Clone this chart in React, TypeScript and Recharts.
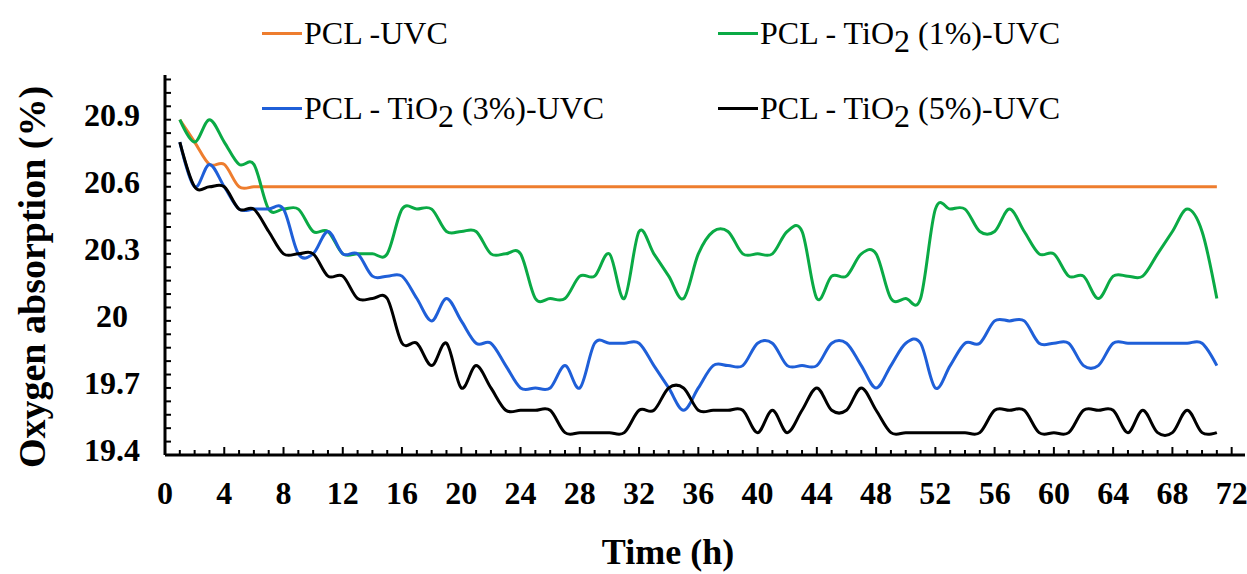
import React from 'react';
import { LineChart, Line, XAxis, YAxis, Legend } from 'recharts';

// time (h)
const hours = [
  1, 2, 3, 4, 5, 6, 7, 8, 9, 10,
  11, 12, 13, 14, 15, 16, 17, 18, 19, 20,
  21, 22, 23, 24, 25, 26, 27, 28, 29, 30,
  31, 32, 33, 34, 35, 36, 37, 38, 39, 40,
  41, 42, 43, 44, 45, 46, 47, 48, 49, 50,
  51, 52, 53, 54, 55, 56, 57, 58, 59, 60,
  61, 62, 63, 64, 65, 66, 67, 68, 69, 70,
  71,
];

const pclUvc = [
  20.9, 20.8, 20.7, 20.7, 20.6, 20.6, 20.6, 20.6, 20.6, 20.6,
  20.6, 20.6, 20.6, 20.6, 20.6, 20.6, 20.6, 20.6, 20.6, 20.6,
  20.6, 20.6, 20.6, 20.6, 20.6, 20.6, 20.6, 20.6, 20.6, 20.6,
  20.6, 20.6, 20.6, 20.6, 20.6, 20.6, 20.6, 20.6, 20.6, 20.6,
  20.6, 20.6, 20.6, 20.6, 20.6, 20.6, 20.6, 20.6, 20.6, 20.6,
  20.6, 20.6, 20.6, 20.6, 20.6, 20.6, 20.6, 20.6, 20.6, 20.6,
  20.6, 20.6, 20.6, 20.6, 20.6, 20.6, 20.6, 20.6, 20.6, 20.6,
  20.6,
];

const tio2One = [
  20.9, 20.8, 20.9, 20.8, 20.7, 20.7, 20.5, 20.5, 20.5, 20.4,
  20.4, 20.3, 20.3, 20.3, 20.3, 20.5, 20.5, 20.5, 20.4, 20.4,
  20.4, 20.3, 20.3, 20.3, 20.1, 20.1, 20.1, 20.2, 20.2, 20.3,
  20.1, 20.4, 20.3, 20.2, 20.1, 20.3, 20.4, 20.4, 20.3, 20.3,
  20.3, 20.4, 20.4, 20.1, 20.2, 20.2, 20.3, 20.3, 20.1, 20.1,
  20.1, 20.5, 20.5, 20.5, 20.4, 20.4, 20.5, 20.4, 20.3, 20.3,
  20.2, 20.2, 20.1, 20.2, 20.2, 20.2, 20.3, 20.4, 20.5, 20.4,
  20.1,
];

const tio2Three = [
  20.8, 20.6, 20.7, 20.6, 20.5, 20.5, 20.5, 20.5, 20.3, 20.3,
  20.4, 20.3, 20.3, 20.2, 20.2, 20.2, 20.1, 20.0, 20.1, 20.0,
  19.9, 19.9, 19.8, 19.7, 19.7, 19.7, 19.8, 19.7, 19.9, 19.9,
  19.9, 19.9, 19.8, 19.7, 19.6, 19.7, 19.8, 19.8, 19.8, 19.9,
  19.9, 19.8, 19.8, 19.8, 19.9, 19.9, 19.8, 19.7, 19.8, 19.9,
  19.9, 19.7, 19.8, 19.9, 19.9, 20.0, 20.0, 20.0, 19.9, 19.9,
  19.9, 19.8, 19.8, 19.9, 19.9, 19.9, 19.9, 19.9, 19.9, 19.9,
  19.8,
];

const tio2Five = [
  20.8, 20.6, 20.6, 20.6, 20.5, 20.5, 20.4, 20.3, 20.3, 20.3,
  20.2, 20.2, 20.1, 20.1, 20.1, 19.9, 19.9, 19.8, 19.9, 19.7,
  19.8, 19.7, 19.6, 19.6, 19.6, 19.6, 19.5, 19.5, 19.5, 19.5,
  19.5, 19.6, 19.6, 19.7, 19.7, 19.6, 19.6, 19.6, 19.6, 19.5,
  19.6, 19.5, 19.6, 19.7, 19.6, 19.6, 19.7, 19.6, 19.5, 19.5,
  19.5, 19.5, 19.5, 19.5, 19.5, 19.6, 19.6, 19.6, 19.5, 19.5,
  19.5, 19.6, 19.6, 19.6, 19.5, 19.6, 19.5, 19.5, 19.6, 19.5,
  19.5,
];

const xLabels = [0, 4, 8, 12, 16, 20, 24, 28, 32, 36, 40, 44, 48, 52, 56, 60, 64, 68, 72];
const yLabels = [19.4, 19.7, 20, 20.3, 20.6, 20.9];

const data = hours.map((h, i) => ({
  hour: h,
  pclUvc: pclUvc[i],
  tio2One: tio2One[i],
  tio2Three: tio2Three[i],
  tio2Five: tio2Five[i],
}));

// minor ticks: every hour on x, every 0.06 on y
const xTicks = Array.from({ length: 73 }, (_, i) => i);
const yTicks = Array.from({ length: 29 }, (_, i) => Number((19.4 + i * 0.06).toFixed(2)));

const serif = "'Liberation Serif', 'Times New Roman', serif";

// Excel-like smoothed line (Catmull-Rom / cardinal spline, tension 0)
class SmoothCurve {
  _context: any;
  _k = 1 / 6;
  _line = NaN;
  _point = 0;
  _x0 = NaN; _x1 = NaN; _x2 = NaN;
  _y0 = NaN; _y1 = NaN; _y2 = NaN;
  constructor(context: any) { this._context = context; }
  areaStart() { this._line = 0; }
  areaEnd() { this._line = NaN; }
  lineStart() {
    this._x0 = this._x1 = this._x2 = this._y0 = this._y1 = this._y2 = NaN;
    this._point = 0;
  }
  lineEnd() {
    if (this._point === 2) this._context.lineTo(this._x2, this._y2);
    else if (this._point === 3) this.bezier(this._x1, this._y1);
    if (this._line || (this._line !== 0 && this._point === 1)) this._context.closePath();
    this._line = 1 - this._line;
  }
  bezier(x: number, y: number) {
    this._context.bezierCurveTo(
      this._x1 + this._k * (this._x2 - this._x0),
      this._y1 + this._k * (this._y2 - this._y0),
      this._x2 + this._k * (this._x1 - x),
      this._y2 + this._k * (this._y1 - y),
      this._x2,
      this._y2,
    );
  }
  point(x: number, y: number) {
    x = +x; y = +y;
    if (this._point === 0) {
      this._point = 1;
      if (this._line) this._context.lineTo(x, y); else this._context.moveTo(x, y);
    } else if (this._point === 1) {
      this._point = 2;
      this._x1 = x; this._y1 = y;
    } else {
      this._point = 3;
      this.bezier(x, y);
    }
    this._x0 = this._x1; this._x1 = this._x2; this._x2 = x;
    this._y0 = this._y1; this._y1 = this._y2; this._y2 = y;
  }
}
const smooth: any = (context: any) => new SmoothCurve(context);

const XTick = (props: any) => {
  const { x, y, payload } = props;
  const v = payload.value;
  const major = xLabels.includes(v);
  return (
    <g>
      <line x1={x} x2={x} y1={y} y2={y - (major ? 8 : 5)} stroke="#000" strokeWidth={2} />
      {major && (
        <text x={x} y={y + 38} textAnchor="middle" dominantBaseline="central"
          fontFamily={serif} fontSize={32} fontWeight="bold" fill="#000">{v}</text>
      )}
    </g>
  );
};

const YTick = (props: any) => {
  const { x, y, payload } = props;
  const v = payload.value;
  const label = yLabels.find((l) => Math.abs(l - v) < 1e-6);
  return (
    <g>
      <line x1={x} x2={x + 6} y1={y} y2={y} stroke="#000" strokeWidth={2} />
      {label !== undefined && (
        <text x={x - 53} y={y - 5} textAnchor="middle" dominantBaseline="central"
          fontFamily={serif} fontSize={32} fontWeight="bold" fill="#000">{label}</text>
      )}
    </g>
  );
};

const legendPos: Record<string, { left: number; top: number }> = {
  pclUvc: { left: 262, top: 33 },
  tio2One: { left: 718, top: 33 },
  tio2Three: { left: 262, top: 108 },
  tio2Five: { left: 718, top: 108 },
};

const renderName = (name: string) => {
  const parts = name.split('TiO2');
  if (parts.length < 2) return name;
  return (
    <>
      {parts[0]}TiO<span style={{ position: 'relative', top: 8 }}>2</span>{parts[1]}
    </>
  );
};

const renderLegend = (props: any) => {
  const { payload } = props;
  return (
    <div style={{ position: 'relative', width: 1247, height: 140 }}>
      {payload.map((entry: any) => {
        const pos = legendPos[entry.dataKey];
        if (!pos) return null;
        return (
          <div key={entry.dataKey} style={{
            position: 'absolute', left: pos.left, top: pos.top - 20, height: 40,
            display: 'flex', alignItems: 'center', whiteSpace: 'nowrap',
          }}>
            <span style={{ display: 'inline-block', width: 40, height: 3, background: entry.color }} />
            <span style={{ fontFamily: serif, fontSize: 32, color: '#000', marginLeft: 2 }}>
              {renderName(entry.value)}
            </span>
          </div>
        );
      })}
    </div>
  );
};

export default function App() {
  return (
    <div style={{ position: 'absolute', left: 0, top: 0, background: '#fff' }}>
      <LineChart width={1247} height={574} data={data}
        margin={{ top: 75, right: 2, left: 0, bottom: 59 }}>
        <XAxis dataKey="hour" type="number" domain={[0, 72.9]} ticks={xTicks} interval={0}
          axisLine={{ stroke: '#000', strokeWidth: 3 }} tickLine={false} tickSize={0} tickMargin={0}
          tick={<XTick />} height={60}
          label={{
            content: () => (
              <text x={668} y={552} textAnchor="middle" dominantBaseline="central"
                fontFamily={serif} fontSize={36} fontWeight="bold" fill="#000">Time (h)</text>
            ),
          }} />
        <YAxis type="number" domain={[19.4, 21.1]} ticks={yTicks} interval={0} width={165}
          axisLine={{ stroke: '#000', strokeWidth: 3 }} tickLine={false} tickSize={0} tickMargin={0}
          tick={<YTick />}
          label={{
            content: () => (
              <text x={-277} y={32} transform="rotate(-90)" textAnchor="middle" dominantBaseline="central"
                fontFamily={serif} fontSize={38} fontWeight="bold" fill="#000">Oxygen absorption (%)</text>
            ),
          }} />
        <Legend layout="horizontal" verticalAlign="middle" align="center" content={renderLegend}
          wrapperStyle={{ left: 0, top: 0, width: 1247 }} />
        <Line type={smooth} dataKey="pclUvc" name="PCL -UVC" stroke="#EE7D2E" strokeWidth={3}
          dot={false} isAnimationActive={false} />
        <Line type={smooth} dataKey="tio2One" name="PCL - TiO2 (1%)-UVC" stroke="#0AAA45" strokeWidth={3}
          dot={false} isAnimationActive={false} />
        <Line type={smooth} dataKey="tio2Three" name="PCL - TiO2 (3%)-UVC" stroke="#1F5FD8" strokeWidth={3}
          dot={false} isAnimationActive={false} />
        <Line type={smooth} dataKey="tio2Five" name="PCL - TiO2 (5%)-UVC" stroke="#000000" strokeWidth={3}
          dot={false} isAnimationActive={false} />
      </LineChart>
    </div>
  );
}
